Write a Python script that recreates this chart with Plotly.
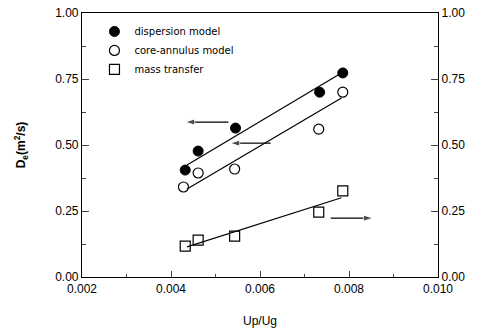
import plotly.graph_objects as go

# Data
up_ug = [0.00432, 0.00461, 0.00545, 0.00734, 0.00786]
dispersion = [0.405, 0.477, 0.564, 0.700, 0.773]
core_x = [0.00428, 0.00461, 0.00543, 0.00732, 0.00786]
core_annulus = [0.341, 0.394, 0.409, 0.560, 0.700]
mass_x = [0.00432, 0.00461, 0.00543, 0.00732, 0.00786]
mass_transfer = [0.117, 0.140, 0.155, 0.246, 0.326]

fit_x = [0.00436, 0.00783]
dispersion_fit = [0.424, 0.773]
core_fit = [0.333, 0.678]
mass_fit = [0.114, 0.300]

# arrows indicating axis: (tail_x, head_x, y)
arrow_specs = [(0.00529, 0.00432, 0.587), (0.00624, 0.00533, 0.507), (0.00759, 0.00854, 0.223)]

x_ticks = [0.002, 0.004, 0.006, 0.008, 0.010]
y_ticks = [0.0, 0.25, 0.5, 0.75, 1.0]

fig = go.Figure()
line_style = dict(color="black", width=1.2)
fig.add_trace(go.Scatter(x=fit_x, y=dispersion_fit, mode="lines", line=line_style, showlegend=False, hoverinfo="skip"))
fig.add_trace(go.Scatter(x=fit_x, y=core_fit, mode="lines", line=line_style, showlegend=False, hoverinfo="skip"))
fig.add_trace(go.Scatter(x=fit_x, y=mass_fit, mode="lines", line=line_style, showlegend=False, hoverinfo="skip"))

for tx, hx, ay in arrow_specs:
    fig.add_trace(go.Scatter(x=[tx, hx], y=[ay, ay], mode="lines+markers", line=dict(color="black", width=1.2),
                             marker=dict(symbol="arrow", size=[0, 10], angleref="previous", color="black",
                                         standoff=0),
                             showlegend=False, hoverinfo="skip"))

fig.add_trace(go.Scatter(x=up_ug, y=dispersion, mode="markers", name="dispersion model",
                         marker=dict(symbol="circle", size=10, color="black", line=dict(color="black", width=1))))
fig.add_trace(go.Scatter(x=core_x, y=core_annulus, mode="markers", name="core-annulus model",
                         marker=dict(symbol="circle-open", size=10, color="black", line=dict(width=1.2))))
fig.add_trace(go.Scatter(x=mass_x, y=mass_transfer, mode="markers", name="mass transfer",
                         marker=dict(symbol="square-open", size=10, color="black", line=dict(width=1.2))))
# invisible trace for right axis
fig.add_trace(go.Scatter(x=[0.002], y=[0], yaxis="y2", mode="markers", marker=dict(opacity=0),
                         showlegend=False, hoverinfo="skip"))

axis_font = dict(family="Liberation Sans, Arial", size=12, color="black")
fig.update_layout(
    width=478, height=333,
    margin=dict(l=82, r=40, t=13, b=56),
    plot_bgcolor="white", paper_bgcolor="white",
    font=axis_font,
    xaxis=dict(range=[0.002, 0.010], tickvals=x_ticks, tickformat=".3f", ticks="inside", ticklen=6,
               showline=True, linecolor="black", linewidth=1.2, mirror=True, showgrid=False, zeroline=False,
               minor=dict(ticks="inside", ticklen=3, dtick=0.001), automargin=False,
               title=dict(text="Up/Ug", font=axis_font, standoff=22)),
    yaxis=dict(range=[0, 1], tickvals=y_ticks, tickformat=".2f", ticks="inside", ticklen=7,
               showline=True, linecolor="black", linewidth=1.2, showgrid=False, zeroline=False,
               minor=dict(ticks="inside", ticklen=4, dtick=0.125), automargin=False,
               title=dict(text="<b>D<sub>e</sub>(m<sup>2</sup>/s)</b>", font=axis_font, standoff=26)),
    yaxis2=dict(range=[0, 1], tickvals=y_ticks, tickformat=".2f", ticks="inside", ticklen=7,
                overlaying="y", side="right", showline=True, linecolor="black", linewidth=1.2,
                showgrid=False, zeroline=False, minor=dict(ticks="inside", ticklen=4, dtick=0.125),
                automargin=False),
    legend=dict(x=0.035, y=0.985, xanchor="left", yanchor="top", bgcolor="rgba(0,0,0,0)",
                font=dict(family="DejaVu Sans", size=10, color="black"), itemwidth=30, tracegroupgap=2),
)

fig.write_html("out.html")
